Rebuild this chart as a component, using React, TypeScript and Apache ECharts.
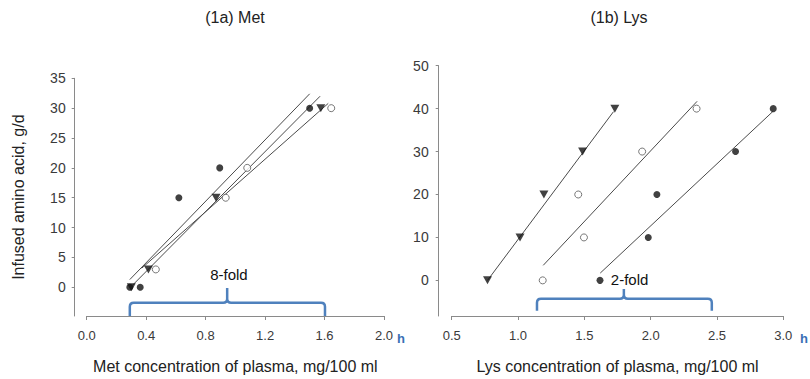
import React, { useEffect, useRef } from 'react';
import * as echarts from 'echarts';

// ---- texts ----
const metTitle = '(1a) Met';
const lysTitle = '(1b) Lys';
const yAxisName = 'Infused amino acid, g/d';
const metXName = 'Met concentration of plasma, mg/100 ml';
const lysXName = 'Lys concentration of plasma, mg/100 ml';
const metFoldText = '8-fold';
const lysFoldText = '2-fold';

// ---- tick values ----
const metYTicks = [0, 5, 10, 15, 20, 25, 30, 35];
const lysYTicks = [0, 10, 20, 30, 40, 50];

// ---- (1a) Met data: [plasma conc, infused g/d] ----
const metFilled = [[0.29, 0], [0.36, 0], [0.62, 15], [0.895, 20], [1.5, 30]];
const metTriangle = [[0.3, 0], [0.415, 3], [0.87, 15], [1.575, 30]];
const metOpen = [[0.465, 3], [0.935, 15], [1.08, 20], [1.645, 30]];
// fitted lines (end points)
const metLineA = [[0.29, 1.3], [1.5, 32.4]];
const metLineB = [[0.31, 0.4], [1.57, 32.0]];
const metLineC = [[0.37, 3.2], [1.625, 30.8]];

// ---- (1b) Lys data ----
const lysTriangle = [[0.77, 0], [1.015, 10], [1.195, 20], [1.487, 30], [1.73, 40]];
const lysOpen = [[1.186, 0], [1.497, 10], [1.454, 20], [1.936, 30], [2.346, 40]];
const lysFilled = [[1.618, 0], [1.982, 10], [2.047, 20], [2.64, 30], [2.924, 40]];
const lysTriLine = [[0.77, 0], [1.72, 39.3]];
const lysOpenLine = [[1.19, 3.5], [2.35, 41.7]];
const lysFilledLine = [[1.62, 1.7], [2.92, 39.3]];

// ---- brackets: [left, notch, right] x; [leg bottom, bar, notch top] y ----
const metBracketX = [0.29, 0.945, 1.603];
const metBracketY = [-4.8, -2.6, -0.1];
const metFoldPos = [0.957, 2.2];
const lysBracketX = [1.143, 1.798, 2.461];
const lysBracketY = [-7.1, -4.3, -2.0];
const lysFoldPos = [1.70, 0.3];

const AXIS_COLOR = '#8a8a8a';
const LABEL_COLOR = '#3a3a3a';
const LINE_COLOR = '#4a4a4a';
const BRACKET_COLOR = '#4f81bd';
const FONT = 'Liberation Sans, Arial, sans-serif';

function bracketSeries(idx: number, bx: number[], by: number[], text: string, tpos: number[], align: string) {
  return {
    type: 'custom',
    xAxisIndex: idx,
    yAxisIndex: idx,
    silent: true,
    clip: false,
    data: [[bx[1], by[1]]],
    renderItem: (_p: any, api: any) => {
      const L = api.coord([bx[0], by[0]]);
      const B = api.coord([bx[0], by[1]]);
      const M = api.coord([bx[1], by[2]]);
      const R = api.coord([bx[2], by[0]]);
      const xl = L[0], xr = R[0], xm = M[0];
      const yb = L[1], yh = B[1], yt = M[1];
      const r = 4;
      const d =
        `M${xl},${yb} L${xl},${yh + r} Q${xl},${yh} ${xl + r},${yh} L${xm - r},${yh} Q${xm},${yh} ${xm},${yh - r} L${xm},${yt} ` +
        `M${xm},${yh - r} Q${xm},${yh} ${xm + r},${yh} L${xr - r},${yh} Q${xr},${yh} ${xr},${yh + r} L${xr},${yb}`;
      const tp = api.coord(tpos);
      return {
        type: 'group',
        children: [
          {
            type: 'path',
            shape: { pathData: d },
            style: { stroke: BRACKET_COLOR, lineWidth: 2.5, fill: 'none' },
          },
          {
            type: 'text',
            x: tp[0],
            y: tp[1],
            style: {
              text,
              fill: '#111',
              font: `15px ${FONT}`,
              align,
              verticalAlign: 'middle',
            },
          },
        ],
      };
    },
  };
}

function scatter(idx: number, data: number[][], kind: 'filled' | 'open' | 'tri') {
  const base: any = {
    type: 'scatter',
    xAxisIndex: idx,
    yAxisIndex: idx,
    data,
    silent: true,
    z: 5,
  };
  if (kind === 'filled') {
    return { ...base, symbol: 'circle', symbolSize: 7, itemStyle: { color: '#111' } };
  }
  if (kind === 'open') {
    return {
      ...base,
      symbol: 'circle',
      symbolSize: 7,
      itemStyle: { color: '#fff', borderColor: '#555', borderWidth: 1 },
    };
  }
  return { ...base, symbol: 'triangle', symbolRotate: 180, symbolSize: [9, 8], itemStyle: { color: '#111' } };
}

function fitLine(idx: number, data: number[][]) {
  return {
    type: 'line',
    xAxisIndex: idx,
    yAxisIndex: idx,
    data,
    symbol: 'none',
    silent: true,
    lineStyle: { color: LINE_COLOR, width: 1 },
    z: 3,
  };
}

export default function App() {
  const ref = useRef<HTMLDivElement>(null);
  useEffect(() => {
    if (!ref.current) return;
    const chart = echarts.init(ref.current, undefined, { renderer: 'svg' });
    const xAxisCommon = {
      type: 'value',
      nameLocation: 'middle',
      nameTextStyle: { fontSize: 16, color: '#222', fontFamily: FONT },
      axisLine: { show: true, onZero: false, lineStyle: { color: AXIS_COLOR, width: 1 } },
      axisTick: { show: true, inside: false, length: 4, lineStyle: { color: AXIS_COLOR } },
      axisLabel: { fontSize: 13, color: LABEL_COLOR, margin: 13, fontFamily: FONT, formatter: (v: number) => v.toFixed(1) },
      splitLine: { show: false },
    };
    const yAxisCommon = {
      type: 'value',
      axisLine: { show: true, onZero: false, lineStyle: { color: AXIS_COLOR, width: 1 } },
      axisTick: { show: true, length: 3, lineStyle: { color: AXIS_COLOR } },
      splitLine: { show: false },
    };
    chart.setOption({
      animation: false,
      backgroundColor: '#fff',
      textStyle: { fontFamily: FONT },
      grid: [
        { left: 86.7, top: 78.3, width: 297.3, height: 238.7 },
        { left: 451.7, top: 65.7, width: 331.6, height: 251.3 },
      ],
      xAxis: [
        { ...xAxisCommon, gridIndex: 0, min: 0, max: 2, interval: 0.4, name: metXName, nameGap: 42 },
        { ...xAxisCommon, gridIndex: 1, min: 0.5, max: 3, interval: 0.5, name: lysXName, nameGap: 42 },
      ],
      yAxis: [
        {
          ...yAxisCommon,
          gridIndex: 0,
          min: -4.8,
          max: 35,
          offset: 12,
          name: yAxisName,
          nameLocation: 'middle',
          nameGap: 48,
          nameTextStyle: { fontSize: 16, color: '#222', fontFamily: FONT },
          axisTick: { ...yAxisCommon.axisTick, customValues: metYTicks },
          axisLabel: { fontSize: 14, color: LABEL_COLOR, margin: 9, fontFamily: FONT, customValues: metYTicks },
        },
        {
          ...yAxisCommon,
          gridIndex: 1,
          min: -8.3,
          max: 50,
          offset: 13,
          axisTick: { ...yAxisCommon.axisTick, customValues: lysYTicks },
          axisLabel: { fontSize: 14, color: LABEL_COLOR, margin: 10, fontFamily: FONT, customValues: lysYTicks },
        },
      ],
      graphic: [
        { type: 'text', x: 235, y: 17, style: { text: metTitle, font: `16px ${FONT}`, fill: '#222', align: 'center', verticalAlign: 'middle' } },
        { type: 'text', x: 619, y: 17, style: { text: lysTitle, font: `16px ${FONT}`, fill: '#222', align: 'center', verticalAlign: 'middle' } },
        { type: 'text', x: 397, y: 338, style: { text: 'h', font: `bold 13px ${FONT}`, fill: '#3a6fb5', align: 'left', verticalAlign: 'middle' } },
        { type: 'text', x: 800, y: 338, style: { text: 'h', font: `bold 13px ${FONT}`, fill: '#3a6fb5', align: 'left', verticalAlign: 'middle' } },
      ],
      series: [
        fitLine(0, metLineA),
        fitLine(0, metLineB),
        fitLine(0, metLineC),
        scatter(0, metOpen, 'open'),
        scatter(0, metFilled, 'filled'),
        scatter(0, metTriangle, 'tri'),
        bracketSeries(0, metBracketX, metBracketY, metFoldText, metFoldPos, 'center'),
        fitLine(1, lysTriLine),
        fitLine(1, lysOpenLine),
        fitLine(1, lysFilledLine),
        scatter(1, lysOpen, 'open'),
        scatter(1, lysFilled, 'filled'),
        scatter(1, lysTriangle, 'tri'),
        bracketSeries(1, lysBracketX, lysBracketY, lysFoldText, lysFoldPos, 'left'),
      ],
    });
    return () => chart.dispose();
  }, []);
  return <div ref={ref} style={{ position: 'fixed', left: 0, top: 0, width: 810, height: 379 }} />;
}
